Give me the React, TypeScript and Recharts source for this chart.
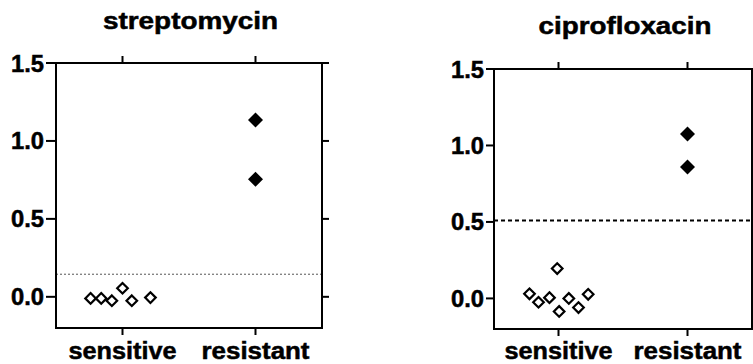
import React from "react"
import { ScatterChart, Scatter, XAxis, YAxis, ReferenceLine } from "recharts"

// ── data ──────────────────────────────────────────────────────
const categories = ["sensitive", "resistant"]
const categoryX = [0.5, 1.5]
const yTicks = [0, 0.5, 1.0, 1.5]

const strepSensitiveX = [0.26, 0.34, 0.42, 0.5, 0.57, 0.71]
const strepSensitiveY = [-0.01, -0.01, -0.025, 0.055, -0.025, -0.005]
const strepResistantY = [1.135, 0.755]
const strepCutoff = 0.145

const ciproSensitiveX = [0.49, 0.275, 0.345, 0.43, 0.505, 0.58, 0.655, 0.73]
const ciproSensitiveY = [0.195, 0.03, -0.025, 0.005, -0.085, 0.0, -0.06, 0.027]
const ciproResistantY = [1.075, 0.86]
const ciproCutoff = 0.51

const FONT = "'Liberation Sans', Arial, Helvetica, sans-serif"

const toPoints = (xs: number[], ys: number[]) => ys.map((y, i) => ({ x: xs[i], y }))

function OpenDiamond({ cx, cy }: any) {
  const r = 5.3
  return (
    <polygon
      points={`${cx},${cy - r} ${cx + r},${cy} ${cx},${cy + r} ${cx - r},${cy}`}
      fill="#fff"
      stroke="#000"
      strokeWidth={2.2}
    />
  )
}

function FilledDiamond({ cx, cy }: any) {
  const r = 7.5
  return <polygon points={`${cx},${cy - r} ${cx + r},${cy} ${cx},${cy + r} ${cx - r},${cy}`} fill="#000" />
}

const Nothing = () => <g />

const axisLine = { stroke: "#000", strokeWidth: 2, strokeLinecap: "square" as const }
const tickLine = { stroke: "#000", strokeWidth: 2 }
const boldText = { fontFamily: FONT, fontWeight: "bold", fill: "#000", stroke: "#000", strokeWidth: 0.5 }

function Panel({
  left,
  width,
  sensitive,
  resistant,
  cutoff,
  cutoffStyle,
  margin,
  yWidth,
  rWidth,
  tickSizeY,
  labelDy,
}: any) {
  const resistantPts = resistant.map((y: number) => ({ x: categoryX[1], y }))
  const all = [...sensitive, ...resistantPts]
  const YTick = ({ x, y, payload }: any) => (
    <text x={x} y={y} dy={8.5} textAnchor="end" fontSize={23} textLength={33} lengthAdjust="spacingAndGlyphs" {...boldText}>
      {Number(payload.value).toFixed(1)}
    </text>
  )
  const XTick = ({ x, y, payload }: any) => (
    <text x={x} y={y} dy={labelDy} textAnchor="middle" fontSize={23.5} textLength={108} lengthAdjust="spacingAndGlyphs" {...boldText}>
      {categories[categoryX.indexOf(payload.value)]}
    </text>
  )
  return (
    <div style={{ position: "absolute", left, top: 0 }}>
      <ScatterChart width={width} height={364} margin={margin}>
        <XAxis
          xAxisId="b"
          type="number"
          dataKey="x"
          domain={[0, 2]}
          ticks={categoryX}
          allowDataOverflow
          height={margin.bh}
          tickSize={7}
          tickMargin={2}
          axisLine={axisLine}
          tickLine={tickLine}
          tick={XTick}
        />
        <XAxis
          xAxisId="t"
          orientation="top"
          type="number"
          dataKey="x"
          domain={[0, 2]}
          ticks={categoryX}
          allowDataOverflow
          height={10}
          tickSize={7}
          axisLine={axisLine}
          tickLine={tickLine}
          tick={Nothing}
        />
        <YAxis
          yAxisId="l"
          type="number"
          dataKey="y"
          domain={[-0.2, 1.5]}
          ticks={yTicks}
          allowDataOverflow
          width={yWidth}
          tickSize={tickSizeY}
          tickMargin={2}
          axisLine={axisLine}
          tickLine={tickLine}
          tick={YTick}
        />
        <YAxis
          yAxisId="r"
          orientation="right"
          type="number"
          dataKey="y"
          domain={[-0.2, 1.5]}
          ticks={yTicks}
          allowDataOverflow
          width={rWidth}
          tickSize={7}
          axisLine={axisLine}
          tickLine={tickLine}
          tick={Nothing}
        />
        <ReferenceLine xAxisId="b" yAxisId="l" y={cutoff} {...cutoffStyle} />
        <Scatter xAxisId="b" yAxisId="l" data={sensitive} shape={OpenDiamond} isAnimationActive={false} />
        <Scatter xAxisId="b" yAxisId="l" data={resistantPts} shape={FilledDiamond} isAnimationActive={false} />
        <Scatter xAxisId="t" yAxisId="r" data={all} shape={Nothing} isAnimationActive={false} />
      </ScatterChart>
    </div>
  )
}

export default function App() {
  return (
    <div style={{ position: "absolute", left: 0, top: 0, width: 753, height: 364, overflow: "hidden", background: "#fff" }}>
      <Panel
        left={0}
        width={340}
        sensitive={toPoints(strepSensitiveX, strepSensitiveY)}
        resistant={strepResistantY}
        cutoff={strepCutoff}
        cutoffStyle={{ stroke: "#555", strokeWidth: 1, strokeDasharray: "2 2" }}
        margin={{ top: 53, right: 0, bottom: 0, left: 0, bh: 36 }}
        yWidth={56}
        rWidth={18}
        tickSizeY={10}
        labelDy={22}
      />
      <Panel
        left={420}
        width={333}
        sensitive={toPoints(ciproSensitiveX, ciproSensitiveY)}
        resistant={ciproResistantY}
        cutoff={ciproCutoff}
        cutoffStyle={{ stroke: "#000", strokeWidth: 2, strokeDasharray: "4 3" }}
        margin={{ top: 59, right: 0, bottom: 0, left: 0, bh: 35 }}
        yWidth={74}
        rWidth={1}
        tickSizeY={8}
        labelDy={21}
      />
      <svg width={753} height={364} style={{ position: "absolute", left: 0, top: 0, pointerEvents: "none" }}>
        <text x={190.5} y={28.5} textAnchor="middle" fontSize={23} textLength={175} lengthAdjust="spacingAndGlyphs" {...boldText}>
          streptomycin
        </text>
        <text x={625} y={34} textAnchor="middle" fontSize={23} textLength={173} lengthAdjust="spacingAndGlyphs" {...boldText}>
          ciprofloxacin
        </text>
      </svg>
    </div>
  )
}
